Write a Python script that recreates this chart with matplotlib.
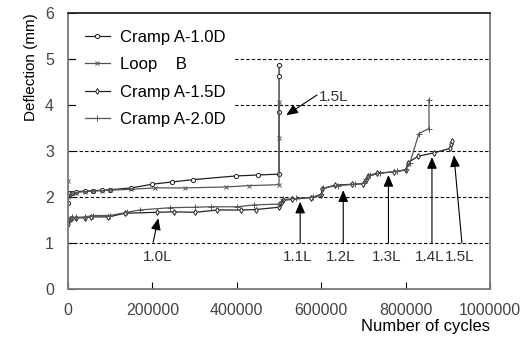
import numpy as np
import matplotlib
matplotlib.use("Agg")
import matplotlib.pyplot as plt
from matplotlib.ticker import FuncFormatter

plt.rcParams['font.family'] = ['Liberation Sans', 'DejaVu Sans']

# data
x_a10 = [0, 0, 2000, 5000, 10000, 20000, 40000, 60000, 80000, 100000, 150000, 200000,
         247000, 297000, 398000, 449000, 500000, 500000, 500000, 500000]
y_a10 = [1.88, 2.05, 2.08, 2.10, 2.10, 2.12, 2.13, 2.14, 2.15, 2.16, 2.20, 2.28,
         2.33, 2.38, 2.46, 2.48, 2.50, 3.84, 4.63, 4.87]

x_loop = [0, 0, 5000, 10000, 20000, 40000, 60000, 80000, 100000, 150000, 207000,
          278000, 374000, 429000, 500000, 500000, 500000]
y_loop = [2.36, 2.00, 2.05, 2.08, 2.10, 2.12, 2.13, 2.14, 2.15, 2.17, 2.20,
          2.20, 2.22, 2.25, 2.27, 3.29, 4.07]

x_a15 = [0, 0, 5000, 10000, 20000, 40000, 56000, 96000, 136000, 210000, 252000, 302000,
         354000, 411000, 445000, 500000, 505000, 510000, 530000, 576000, 600000, 602000,
         632000, 673000, 699000, 705000, 711000, 731000, 773000, 800000, 805000, 830000,
         866000, 905000, 907000, 910000]
y_a15 = [1.41, 1.48, 1.52, 1.55, 1.55, 1.55, 1.57, 1.57, 1.65, 1.67, 1.68, 1.67,
         1.72, 1.72, 1.73, 1.78, 1.88, 1.93, 1.95, 1.99, 2.04, 2.18,
         2.26, 2.28, 2.29, 2.38, 2.46, 2.52, 2.55, 2.59, 2.75, 2.89,
         2.96, 3.06, 3.15, 3.22]

x_a20 = [0, 0, 5000, 10000, 20000, 40000, 60000, 100000, 140000, 170000, 243000, 300000,
         340000, 400000, 441000, 500000, 505000, 510000, 540000, 580000, 600000, 605000,
         640000, 680000, 700000, 705000, 715000, 740000, 780000, 800000, 810000, 831000,
         855000, 855000]
y_a20 = [1.45, 1.50, 1.53, 1.56, 1.56, 1.57, 1.60, 1.60, 1.67, 1.72, 1.77, 1.78,
         1.79, 1.79, 1.83, 1.85, 1.90, 1.95, 1.97, 2.00, 2.06, 2.20,
         2.25, 2.28, 2.30, 2.40, 2.47, 2.52, 2.56, 2.60, 2.75, 3.38,
         3.49, 4.12]

# load stage annotations: label, arrow tip (x, y), arrow tail x
stage_labels = ["1.1L", "1.2L", "1.3L", "1.4L", "1.5L"]
stage_tip_x = [550000, 652000, 759000, 862000, 914000]
stage_tip_y = [1.90, 2.15, 2.48, 2.87, 2.91]
stage_tail_x = [550000, 652000, 759000, 862000, 933000]

fig = plt.figure(figsize=(5.3, 3.43), dpi=100)
ax = fig.add_axes([0.128, 0.157, 0.797, 0.805])

ax.plot(x_a10, y_a10, color="#222222", lw=0.9, marker="o", ms=3, mfc="white", mew=0.7,
        label="Cramp A-1.0D")
ax.plot(x_loop, y_loop, color="#555555", lw=0.9, marker="x", ms=3, mew=0.7,
        label="Loop    B")
ax.plot(x_a15, y_a15, color="#222222", lw=0.9, marker="d", ms=3, mfc="white", mew=0.7,
        label="Cramp A-1.5D")
ax.plot(x_a20, y_a20, color="#555555", lw=0.9, marker="+", ms=4.5, mew=0.7,
        label="Cramp A-2.0D")

# arrows
arrow = dict(arrowstyle="-|>,head_width=0.3,head_length=0.7", color="black", lw=0.8,
             shrinkA=0, shrinkB=0)
for lab, tx, ty, bx in zip(stage_labels, stage_tip_x, stage_tip_y, stage_tail_x):
    ax.annotate("", xy=(tx, ty), xytext=(bx, 1.0), arrowprops=arrow)
    ax.text(bx - 5000, 0.70, lab, ha="center", va="center", fontsize=11, color="#333333")

ax.annotate("", xy=(214000, 1.54), xytext=(202000, 1.02), arrowprops=arrow)
ax.text(212000, 0.70, "1.0L", ha="center", va="center", fontsize=11, color="#333333")
ax.annotate("", xy=(517000, 3.78), xytext=(590000, 4.22), arrowprops=arrow)
ax.text(595000, 4.17, "1.5L", ha="left", va="center", fontsize=11, color="#333333")

ax.set_xlim(0, 1000000)
ax.set_ylim(0, 6)
ax.set_xticks([0, 200000, 400000, 600000, 800000, 1000000])
ax.set_yticks([0, 1, 2, 3, 4, 5, 6])
ax.xaxis.set_major_formatter(FuncFormatter(lambda v, p: f"{int(v)}"))
ax.tick_params(direction="in", length=5, labelsize=11.5, labelcolor="#444444", pad=10)
for y in [1, 2, 3, 4, 5]:
    ax.axhline(y, color="black", lw=0.8, ls=(0, (3, 2)), zorder=0)

for s in ax.spines.values():
    s.set_color("#777777")
    s.set_linewidth(1.3)
ax.spines["top"].set_color("#222222")

ax.set_xlabel("Number of cycles", fontsize=12, loc="right", labelpad=1)
ax.set_ylabel("Deflection (mm)", fontsize=11, loc="top", labelpad=5)

leg = ax.legend(loc="upper left", frameon=True, fancybox=False, edgecolor="none",
                facecolor="white", framealpha=1, fontsize=12, handlelength=1.5,
                handletextpad=0.6, labelspacing=0.75, borderpad=0.5)

fig.savefig("out.png", dpi=100)
